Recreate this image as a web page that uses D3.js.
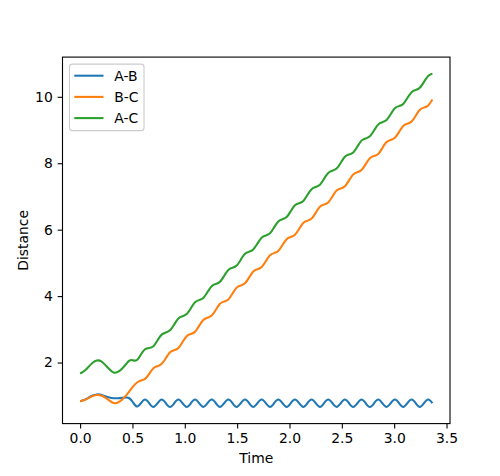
<!DOCTYPE html>
<html><head><meta charset="utf-8">
<script src="https://cdn.jsdelivr.net/npm/d3@7"></script>
<style>body{margin:0;background:#fff} text{font-family:"DejaVu Sans",sans-serif}</style>
</head><body><svg id="c" width="500" height="476"></svg>
<script>
const time = [0,0.04,0.08,0.12,0.16,0.20,0.24,0.28,0.32,0.36,0.40,0.44,0.47,
0.501,0.541,0.581,0.620,0.660,0.700,0.740,0.779,
0.819,0.859,0.899,0.939,0.978,1.018,1.058,1.098,
1.137,1.177,1.217,1.257,1.297,1.336,1.376,1.416,
1.456,1.495,1.535,1.575,1.615,1.654,1.694,1.734,
1.774,1.814,1.853,1.893,1.933,1.973,2.012,2.052,
2.092,2.132,2.171,2.211,2.251,2.291,2.330,2.370,
2.410,2.450,2.490,2.529,2.569,2.609,2.649,2.688,
2.728,2.768,2.808,2.848,2.887,2.927,2.967,3.007,
3.047,3.086,3.126,3.166,3.206,3.245,3.285,3.325,3.365];

const distAB = [0.835,0.875,0.94,1.005,1.04,1.03,0.985,0.945,0.925,0.925,0.935,0.945,0.925,
0.82,0.675,0.775,0.887,0.775,0.663,0.775,0.887,
0.775,0.663,0.775,0.887,0.775,0.663,0.775,0.887,
0.775,0.663,0.775,0.887,0.775,0.663,0.775,0.887,
0.775,0.663,0.775,0.887,0.775,0.663,0.775,0.887,
0.775,0.663,0.775,0.887,0.775,0.663,0.775,0.887,
0.775,0.663,0.775,0.887,0.775,0.663,0.775,0.887,
0.775,0.663,0.775,0.887,0.775,0.663,0.775,0.887,
0.775,0.663,0.775,0.887,0.775,0.663,0.775,0.887,
0.775,0.663,0.775,0.887,0.775,0.663,0.775,0.887,0.775];

const distBC = [0.835,0.87,0.93,0.99,1.02,1.01,0.945,0.855,0.78,0.795,0.88,1.01,1.13,
1.26,1.39,1.46,1.51,1.66,1.83,1.89,1.96,
2.130,2.308,2.373,2.439,2.617,2.795,2.860,2.926,
3.104,3.281,3.347,3.413,3.590,3.768,3.834,3.900,
4.077,4.255,4.321,4.386,4.564,4.742,4.807,4.873,
5.051,5.229,5.294,5.360,5.538,5.715,5.781,5.847,
6.024,6.202,6.268,6.333,6.511,6.689,6.755,6.820,
6.998,7.176,7.241,7.307,7.485,7.662,7.728,7.794,
7.972,8.149,8.215,8.281,8.458,8.636,8.702,8.767,
8.945,9.123,9.188,9.254,9.432,9.610,9.675,9.741,9.919];

const distAC = [1.67,1.745,1.87,1.995,2.06,2.04,1.93,1.80,1.70,1.72,1.815,1.955,2.055,
2.07,2.07,2.24,2.40,2.44,2.49,2.67,2.84,
2.905,2.971,3.148,3.326,3.392,3.458,3.635,3.813,
3.879,3.944,4.122,4.300,4.365,4.431,4.609,4.787,
4.852,4.918,5.096,5.273,5.339,5.405,5.582,5.760,
5.826,5.892,6.069,6.247,6.313,6.378,6.556,6.734,
6.799,6.865,7.043,7.220,7.286,7.352,7.530,7.707,
7.773,7.839,8.016,8.194,8.260,8.325,8.503,8.681,
8.747,8.812,8.990,9.168,9.233,9.299,9.477,9.654,
9.720,9.786,9.963,10.141,10.207,10.273,10.450,10.628,10.694];

const seriesNames = ["A-B","B-C","A-C"];
const seriesColors = ["#1f77b4","#ff7f0e","#2ca02c"];
const xTickValues = [0,0.5,1,1.5,2,2.5,3,3.5];
const yTickValues = [2,4,6,8,10];
const xLabel = "Time";
const yLabel = "Distance";

const W = 500, H = 476;
const m = {left:62.5, right:450, top:57.1, bottom:423.6};
const svg = d3.select("#c");

const allSeries = [distAB, distBC, distAC];
const xExt = d3.extent(time);
const yExt = [d3.min(allSeries, s => d3.min(s)), d3.max(allSeries, s => d3.max(s))];
const xPad = (xExt[1]-xExt[0])*0.05, yPad = (yExt[1]-yExt[0])*0.05;
const x = d3.scaleLinear().domain([xExt[0]-xPad, xExt[1]+xPad]).range([m.left, m.right]);
const y = d3.scaleLinear().domain([yExt[0]-yPad, yExt[1]+yPad]).range([m.bottom, m.top]);

const line = d3.line().x(d => x(d[0])).y(d => y(d[1])).curve(d3.curveNatural);
const g = svg.append("g");
allSeries.forEach((s, i) => {
  g.append("path")
    .attr("d", line(time.map((t, k) => [t, s[k]])))
    .attr("fill", "none")
    .attr("stroke", seriesColors[i])
    .attr("stroke-width", 2.08)
    .attr("stroke-linejoin", "round")
    .attr("stroke-linecap", "butt");
});

const fs = 13.9;
const xAxis = svg.append("g").attr("transform", `translate(0,${m.bottom})`)
  .call(d3.axisBottom(x).tickValues(xTickValues).tickFormat(d3.format(".1f")).tickSize(4.86).tickPadding(4.86).tickSizeOuter(0));
const yAxis = svg.append("g").attr("transform", `translate(${m.left},0)`)
  .call(d3.axisLeft(y).tickValues(yTickValues).tickFormat(d3.format("d")).tickSize(4.86).tickPadding(4.86).tickSizeOuter(0));
[xAxis, yAxis].forEach(a => {
  a.select(".domain").remove();
  a.selectAll("line").attr("stroke", "#000").attr("stroke-width", 1.1);
  a.selectAll("text").attr("font-size", fs).attr("fill", "#000").attr("font-family", "DejaVu Sans");
});

// spines
svg.append("rect").attr("x", m.left).attr("y", m.top)
  .attr("width", m.right - m.left).attr("height", m.bottom - m.top)
  .attr("fill", "none").attr("stroke", "#000").attr("stroke-width", 1.1);

svg.append("text").attr("x", (m.left + m.right)/2).attr("y", 463.3)
  .attr("text-anchor", "middle").attr("font-size", fs).text(xLabel);
svg.append("text").attr("transform", `translate(28,${(m.top + m.bottom)/2}) rotate(-90)`)
  .attr("text-anchor", "middle").attr("font-size", fs).text(yLabel);

// legend
const lg = svg.append("g");
lg.append("rect").attr("x", 69.5).attr("y", 64.1).attr("width", 74.5).attr("height", 66.5)
  .attr("rx", 2.8).attr("fill", "#fff").attr("fill-opacity", 0.8)
  .attr("stroke", "#cccccc").attr("stroke-width", 1.1);
seriesNames.forEach((n, i) => {
  const yy = 75.7 + i*21.2;
  lg.append("line").attr("x1", 74.3).attr("x2", 103.5).attr("y1", yy).attr("y2", yy)
    .attr("stroke", seriesColors[i]).attr("stroke-width", 2.08);
  lg.append("text").attr("x", 114.3).attr("y", yy + 5).attr("font-size", fs).text(n);
});
</script></body></html>
